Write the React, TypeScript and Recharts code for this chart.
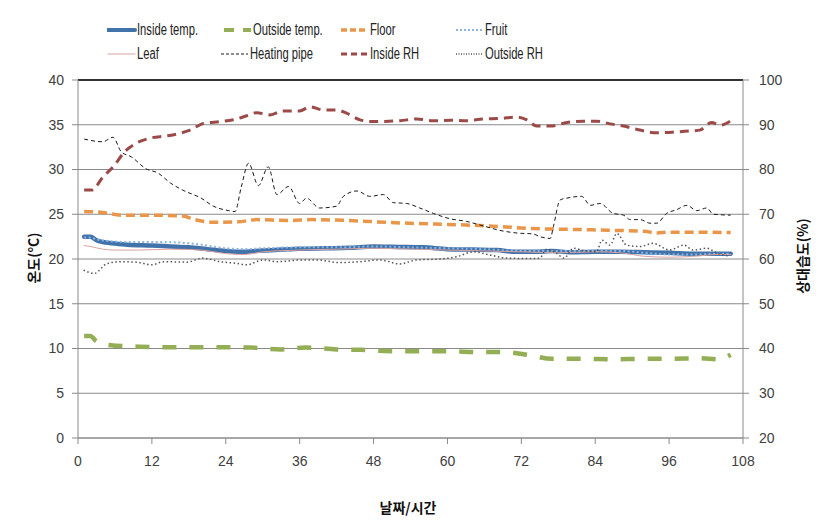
import { LineChart, Line, XAxis, YAxis, CartesianGrid, ReferenceLine } from 'recharts'

// [hour, value] readings
const insideTemp: [number, number][] = [
  [1, 22.5], [2, 22.5], [3, 22.1], [4, 21.9], [5.5, 21.75], [8, 21.6], [12, 21.5], [15, 21.4], [18, 21.3],
  [21, 21.1], [24, 20.9], [27, 20.8], [30, 20.95], [33, 21.05], [36, 21.15], [40, 21.2], [44, 21.25],
  [48, 21.4], [52, 21.35], [56, 21.3], [60, 21.1], [64, 21.05], [68, 21.0], [71, 20.8], [74, 20.8],
  [77, 20.9], [80, 20.75], [84, 20.8], [88, 20.8], [92, 20.75], [96, 20.7], [100, 20.6], [104, 20.6], [106, 20.6],
]
const outsideTemp: [number, number][] = [
  [1, 11.4], [2, 11.4], [3, 10.8], [5, 10.4], [10, 10.2], [15, 10.15], [20, 10.15], [28, 10.1], [33, 9.9],
  [37, 10.1], [42, 9.9], [46, 9.85], [51, 9.7], [56, 9.7], [60, 9.7], [65, 9.6], [69, 9.6], [73, 9.3],
  [77, 8.85], [82, 8.85], [87, 8.8], [92, 8.85], [96, 8.85], [101, 8.9], [104, 8.8], [106, 9.3],
]
const floor: [number, number][] = [
  [1, 25.3], [4, 25.2], [7, 24.9], [12, 24.9], [17, 24.8], [19, 24.4], [22, 24.1], [26, 24.15], [29, 24.4],
  [34, 24.3], [38, 24.4], [44, 24.3], [50, 24.1], [58, 23.9], [63, 23.8], [69, 23.6], [74, 23.4], [81, 23.3],
  [87, 23.2], [92, 23.1], [94, 22.9], [96, 23.0], [101, 23.0], [106, 22.95],
]
const fruit: [number, number][] = [
  [1, 22.4], [2, 22.4], [3, 22.2], [5, 22.0], [8, 21.9], [12, 21.9], [16, 21.85], [20, 21.6], [24, 21.2],
  [27, 21.1], [30, 21.2], [36, 21.3], [42, 21.3], [48, 21.4], [54, 21.3], [60, 21.2], [66, 21.1], [72, 20.9],
  [76, 20.9], [80, 20.9], [84, 20.9], [88, 20.9], [92, 20.7], [96, 20.5], [100, 20.5], [104, 20.6], [106, 20.6],
]
const leaf: [number, number][] = [
  [1, 21.5], [2, 21.4], [4, 21.1], [6, 21.0], [10, 21.0], [15, 21.1], [20, 21.0], [24, 20.6], [27, 20.5],
  [30, 20.8], [36, 21.0], [42, 21.1], [48, 21.2], [54, 21.1], [60, 21.0], [66, 20.9], [72, 20.8], [78, 20.7],
  [84, 20.8], [88, 20.7], [92, 20.3], [96, 20.2], [100, 20.3], [104, 20.5], [106, 20.5],
]
const heatingPipe: [number, number][] = [
  [1, 33.4], [4, 33.1], [5.7, 33.6], [7, 32], [8.7, 31.4], [11, 30.1], [13, 29.6], [15, 28.5], [17, 27.7],
  [20, 26.8], [22, 25.9], [24.5, 25.4], [25.5, 25.3], [26.5, 28], [27.7, 30.7], [29.3, 28.2], [30.9, 30.3],
  [32.3, 27.2], [34.2, 28.1], [36, 26.2], [37.1, 26.8], [39.2, 25.7], [42, 25.9], [43.1, 27], [45.3, 27.6],
  [47.4, 27], [49.6, 27.2], [51.2, 26.3], [53.4, 26.2], [55.5, 25.7], [57.7, 25.1], [60.4, 24.5], [63.1, 24.2],
  [65.8, 23.7], [68.5, 23.2], [71.3, 22.9], [73.9, 22.8], [75, 22.5], [76.7, 22.3], [77.2, 23.6], [78.3, 26.6],
  [79.4, 26.8], [81.8, 27], [83.2, 26], [84.8, 26.2], [86.9, 25.1], [88.6, 24.9], [89.7, 24.4], [91.3, 24.4],
  [92.9, 24], [94, 24], [95.6, 25.1], [97.2, 25.5], [98.9, 26], [100.5, 25.4], [102.1, 25.7], [103.2, 25], [106, 24.9],
]
const insideRH: [number, number][] = [
  [1, 75.4], [2.2, 75.4], [4.1, 78.4], [5.7, 80.6], [7.6, 84], [9.5, 85.9], [11.7, 87], [14.4, 87.5],
  [16.6, 88.1], [18.2, 88.8], [20.4, 90.3], [23.1, 90.7], [25.2, 91.1], [27.4, 92], [29, 92.7], [31.2, 92.2],
  [33.3, 93.1], [36, 93.1], [37.7, 94], [39.8, 93.3], [42, 93.3], [43.6, 92.6], [45.8, 91.1], [47.9, 90.7],
  [52.3, 90.9], [55, 91.3], [57.7, 90.9], [60.4, 91], [63.1, 90.9], [65.8, 91.3], [68.5, 91.4], [71.3, 91.7],
  [72.9, 91.1], [74.5, 89.7], [76.7, 89.7], [79.4, 90.5], [82.1, 90.8], [84.2, 90.8], [86.4, 90.2], [88.6, 89.7],
  [90.7, 89], [94, 88.2], [97.2, 88.4], [99.4, 88.6], [101, 88.8], [102.9, 90.5], [104.3, 89.9], [105.9, 90.8],
]
const outsideRH: [number, number][] = [
  [0.9, 57.5], [2.7, 56.8], [4.6, 58.9], [6.8, 59.4], [9.5, 59.3], [12, 58.7], [13.9, 59.4], [17.7, 59.3],
  [20.2, 60.2], [23.1, 59.4], [25.8, 59], [27.4, 58.7], [30.1, 59.8], [32.3, 59.4], [36.6, 59.8], [38.7, 59.8],
  [42.5, 59.2], [45.8, 59.4], [49, 59.8], [52.3, 58.9], [55, 59.8], [58.8, 60], [61.5, 60.5], [64.2, 61.6],
  [66.9, 60.9], [69.7, 60.2], [74, 60.1], [75, 60.2], [76.1, 62.2], [77.7, 61.3], [78.9, 60.2], [80.5, 62.4],
  [82.1, 61.9], [84.2, 61.6], [85.1, 64.2], [86.4, 63.1], [87.5, 65.7], [89.1, 63.1], [91.3, 62.8], [93.4, 63.5],
  [96.1, 62], [98.4, 63.1], [99.9, 62], [102.1, 62.4], [103.8, 61.3], [105.9, 60.6],
]

const xTicks = [0, 12, 24, 36, 48, 60, 72, 84, 96, 108]
const tempTicks = [0, 5, 10, 15, 20, 25, 30, 35, 40]
const rhTicks = [20, 30, 40, 50, 60, 70, 80, 90, 100]

const toRows = (pts: [number, number][]) => pts.map(([h, v]) => ({ h, v }))

const series = [
  { name: 'Inside temp.', pts: insideTemp, axis: 'left', color: '#4172AA', width: 4.5, dash: undefined, sample: undefined },
  { name: 'Outside temp.', pts: outsideTemp, axis: 'left', color: '#94AE55', width: 4.5, dash: '14 13', sample: '10 9' },
  { name: 'Floor', pts: floor, axis: 'left', color: '#E8964A', width: 3.5, dash: '9 5', sample: '6 3' },
  { name: 'Fruit', pts: fruit, axis: 'left', color: '#8DB4DE', width: 2, dash: '2 2.5', sample: '2 2' },
  { name: 'Leaf', pts: leaf, axis: 'left', color: '#D9A3A1', width: 1, dash: undefined, sample: undefined },
  { name: 'Heating pipe', pts: heatingPipe, axis: 'left', color: '#1a1a1a', width: 1, dash: '4 3', sample: '3 2' },
  { name: 'Inside RH', pts: insideRH, axis: 'right', color: '#9B4A48', width: 3, dash: '9 6', sample: '6 4' },
  { name: 'Outside RH', pts: outsideRH, axis: 'right', color: '#555555', width: 1.5, dash: '1.5 2.5', sample: '1 1.5' },
]

const legendPos = [
  [107, 30], [223, 30], [340, 30], [455, 30],
  [107, 54], [220, 54], [340, 54], [455, 54],
]

function LegendBox() {
  return (
    <>
      {series.map((s, i) => {
        const [x, y] = legendPos[i]
        return (
          <div key={s.name} style={{ position: 'absolute', left: x, top: y - 10, height: 20, display: 'flex', alignItems: 'center' }}>
            <svg width={30} height={20}>
              <line x1={1} y1={10} x2={28} y2={10} stroke={s.color} strokeWidth={Math.min(s.width, 4)}
                strokeDasharray={s.sample} strokeLinecap={s.sample ? 'butt' : 'round'} />
            </svg>
            <span style={{
              display: 'inline-block', fontFamily: "'Liberation Sans', sans-serif", fontSize: 16, color: '#222',
              marginLeft: 0, whiteSpace: 'nowrap', transform: 'scaleX(0.7)', transformOrigin: 'left center',
            }}>
              {s.name}
            </span>
          </div>
        )
      })}
    </>
  )
}

const tickStyle = { fontSize: 14, fill: '#404040', fontFamily: "'Liberation Sans', Arial, sans-serif" }
const titleStyle: React.CSSProperties = {
  position: 'absolute', fontFamily: "'Noto Sans CJK KR', sans-serif", fontWeight: 700, fontSize: 14, color: '#111', whiteSpace: 'nowrap',
}

export default function App() {
  return (
    <div style={{ position: 'absolute', left: 0, top: 0, width: 830, height: 522, background: '#fff' }}>
      <LineChart width={830} height={522} margin={{ top: 80, right: 0, bottom: 0, left: 0 }}>
        <CartesianGrid yAxisId="left" vertical={false} stroke="#8a8a8a" />
        <XAxis
          type="number"
          dataKey="h"
          domain={[0, 108]}
          ticks={xTicks}
          height={84}
          stroke="#8a8a8a"
          tickSize={6}
          tickMargin={12}
          tick={tickStyle}
          allowDuplicatedCategory={false}
        />
        <YAxis yAxisId="left" orientation="left" domain={[0, 40]} ticks={tempTicks} width={78} stroke="#8a8a8a" tickSize={6} tickMargin={8} tick={tickStyle} />
        <YAxis yAxisId="right" orientation="right" domain={[20, 100]} ticks={rhTicks} width={87} stroke="#8a8a8a" tickSize={6} tickMargin={10} tick={{ ...tickStyle, textAnchor: 'start' }} />
        <ReferenceLine yAxisId="left" y={40} stroke="#000" strokeWidth={1.5} />
        {series.map(s => (
          <Line
            key={s.name}
            yAxisId={s.axis}
            data={toRows(s.pts)}
            dataKey="v"
            type="monotone"
            stroke={s.color}
            strokeWidth={s.width}
            strokeDasharray={s.dash}
            strokeLinecap={s.dash ? 'butt' : 'round'}
            dot={false}
            activeDot={false}
            isAnimationActive={false}
          />
        ))}
      </LineChart>
      <LegendBox />
      <div style={{ ...titleStyle, left: 33, top: 258, transform: 'translate(-50%, -50%) rotate(-90deg)' }}>온도(°C)</div>
      <div style={{ ...titleStyle, left: 802, top: 256, transform: 'translate(-50%, -50%) rotate(-90deg)' }}>상대습도(%)</div>
      <div style={{ ...titleStyle, left: 408, top: 507, transform: 'translate(-50%, -50%)' }}>날짜/시간</div>
    </div>
  )
}
